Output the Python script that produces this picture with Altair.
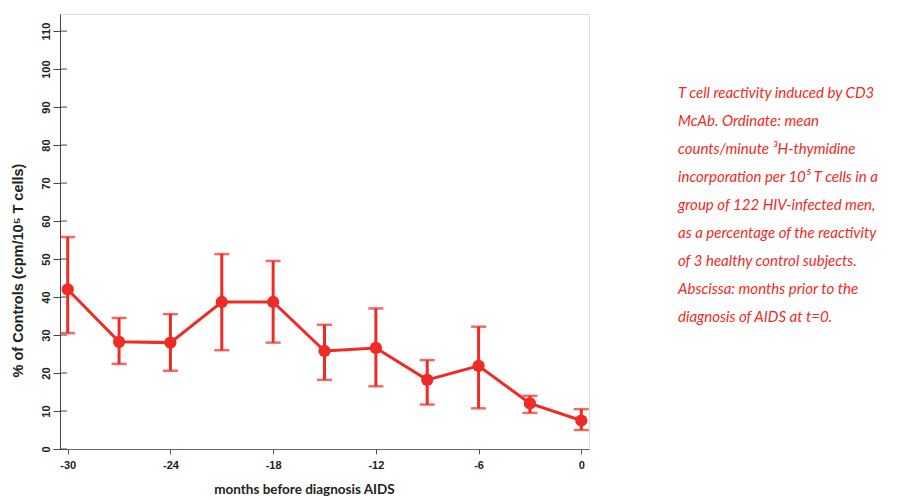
import altair as alt
import pandas as pd

months = [-30, -27, -24, -21, -18, -15, -12, -9, -6, -3, 0]
mean_pct = [42.0, 28.2, 28.0, 38.7, 38.7, 25.8, 26.6, 18.2, 21.9, 12.0, 7.5]
upper = [55.8, 34.5, 35.5, 51.3, 49.5, 32.7, 37.0, 23.4, 32.2, 14.0, 10.5]
lower = [30.5, 22.4, 20.6, 26.0, 28.0, 18.2, 16.5, 11.7, 10.7, 9.5, 5.0]

y_ticks = [0, 10, 20, 30, 40, 50, 60, 70, 80, 90, 100, 110]
x_ticks = [-30, -24, -18, -12, -6, 0]

caption = [
    "T cell reactivity induced by CD3",
    "McAb. Ordinate: mean",
    "counts/minute ³H-thymidine",
    "incorporation per 10⁵ T cells in a",
    "group of 122 HIV-infected men,",
    "as a percentage of the reactivity",
    "of 3 healthy control subjects.",
    "Abscissa: months prior to the",
    "diagnosis of AIDS at t=0.",
]

RED = "#ee2b25"

df = pd.DataFrame({"m": months, "v": mean_pct, "hi": upper, "lo": lower})
ticks_df = pd.DataFrame({"t": y_ticks})
cap_df = pd.DataFrame({"line": caption, "i": list(range(len(caption)))})

xs = alt.Scale(domain=[-30.45, 0.45], nice=False, zero=False)
ys = alt.Scale(domain=[0, 114.5], nice=False, zero=False)

xax = alt.Axis(
    values=x_ticks, grid=False, title="months before diagnosis AIDS",
    labelExpr="replace(datum.label, '−', '-')",
    labelFont="Liberation Sans", labelFontWeight="bold", labelFontSize=11,
    labelColor="#222", labelPadding=5, tickSize=5, tickColor="#555",
    domainColor="#666", titleFont="Lato", titleFontWeight="bold", titleFontSize=13.5,
    titleColor="#222", titleX=244, titleY=40, titleBaseline="middle",
    titleAnchor="start", titleAlign="center",
)
yax = alt.Axis(
    orient="left",
    values=y_ticks, grid=False, title="% of Controls (cpm/10⁵ T cells)",
    labelAngle=270, labelFont="Liberation Sans", labelFontWeight="bold",
    labelFontSize=11, labelColor="#222", labelPadding=2, tickSize=7,
    tickColor="#444", domainColor="#444",
    titleFont="Liberation Sans", titleFontWeight="bold", titleFontSize=14.5,
    titleColor="#222", titleAngle=270, titleX=-42, titleY=256,
    titleBaseline="middle", titleAlign="center", titleAnchor="start",
)

base = alt.Chart(df)

line = base.mark_line(color=RED, strokeWidth=3).encode(
    x=alt.X("m:Q", scale=xs, axis=xax),
    y=alt.Y("v:Q", scale=ys, axis=yax),
)
bars = base.mark_rule(color=RED, strokeWidth=3).encode(
    x=alt.X("m:Q", scale=xs), y=alt.Y("lo:Q", scale=ys, axis=None), y2="hi:Q"
)
cap_hi = base.mark_tick(color=RED, orient="horizontal", size=15, thickness=2.5).encode(
    x=alt.X("m:Q", scale=xs), y=alt.Y("hi:Q", scale=ys, axis=None)
)
cap_lo = base.mark_tick(color=RED, orient="horizontal", size=15, thickness=2.5).encode(
    x=alt.X("m:Q", scale=xs), y=alt.Y("lo:Q", scale=ys, axis=None)
)
pts = base.mark_circle(color=RED, size=150, opacity=1).encode(
    x=alt.X("m:Q", scale=xs), y=alt.Y("v:Q", scale=ys, axis=None)
)
inner_ticks = alt.Chart(ticks_df).mark_rule(color="#444", strokeWidth=1).encode(
    y=alt.Y("t:Q", scale=ys, axis=None), x=alt.value(0), x2=alt.value(7)
)
text = alt.Chart(cap_df).mark_text(
    color=RED, font="Lato", fontStyle="italic", fontSize=15,
    align="left", baseline="middle",
).encode(
    x=alt.value(618),
    y=alt.Y("i:Q", scale=alt.Scale(domain=[0, 8], range=[79, 303]), axis=None),
    text="line:N",
)

chart = alt.layer(line, inner_ticks, bars, cap_hi, cap_lo, pts, text).resolve_scale(
    y="independent"
).properties(
    width=529, height=435,
    autosize=alt.AutoSizeParams(type="none"),
    padding={"left": 52, "top": 6, "right": 300, "bottom": 50},
).configure_view(stroke="#555", strokeWidth=1.2).configure(background="white")

chart.save("out.html", embed_options={"renderer": "svg", "actions": False})
